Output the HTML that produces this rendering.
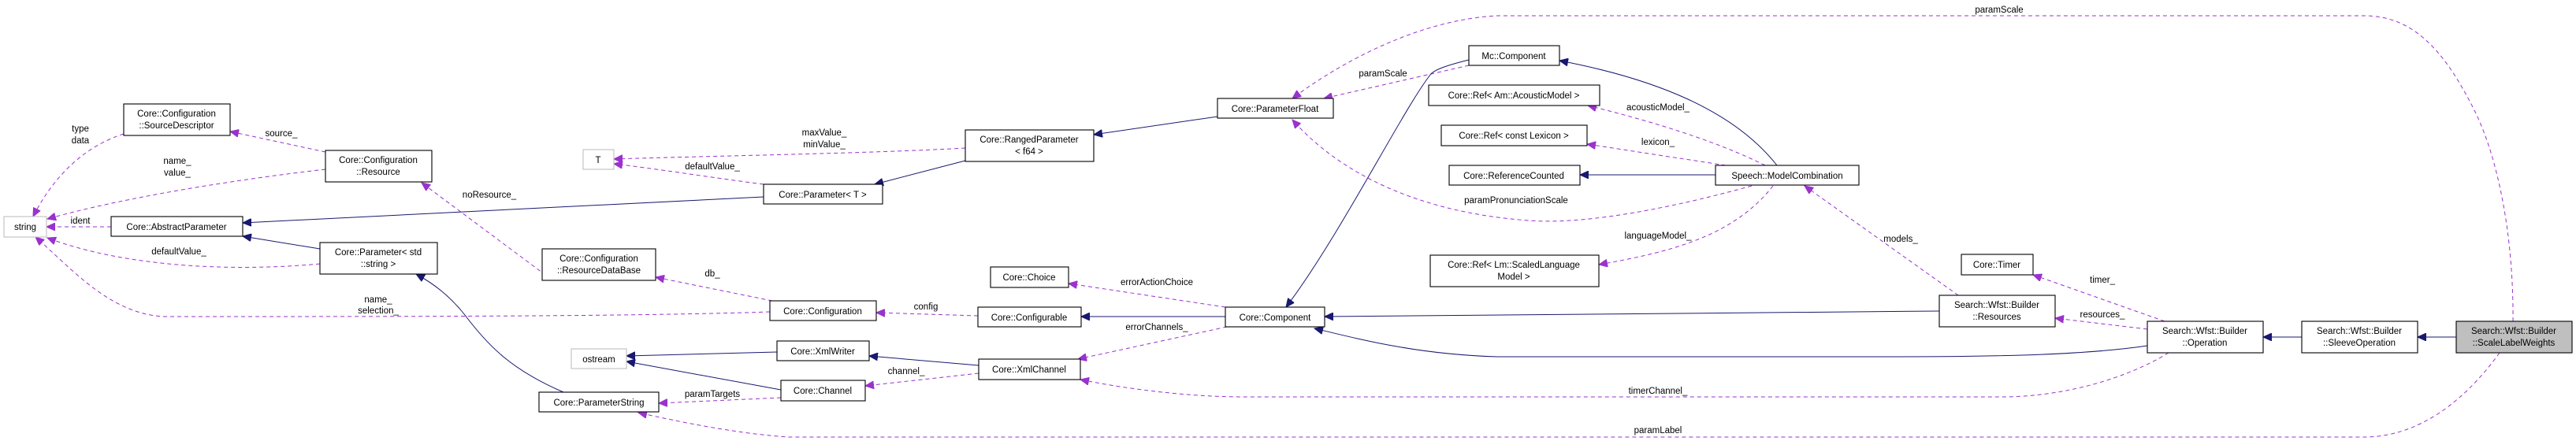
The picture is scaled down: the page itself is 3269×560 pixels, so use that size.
<!DOCTYPE html>
<html><head><meta charset="utf-8"><style>
html,body{margin:0;padding:0;background:#fff;width:3269px;height:560px;overflow:hidden}
text{font-family:"Liberation Sans",Arial,sans-serif;font-size:11.5px;fill:#000}
.b{fill:#fff;stroke:#000;stroke-width:1.1}
.g{fill:#fff;stroke:#bfbfbf;stroke-width:1.1}
.d{fill:none;stroke:#9a32cd;stroke-width:1;stroke-dasharray:5,4}
.s{fill:none;stroke:#191970;stroke-width:1}
</style></head><body>
<svg width="3269" height="560" xmlns="http://www.w3.org/2000/svg">
<defs>
<marker id="mp" markerWidth="12" markerHeight="10" refX="11" refY="5" orient="auto" markerUnits="userSpaceOnUse"><path d="M0,0 L11,5 L0,10 z" fill="#9a32cd" stroke="#9a32cd"/></marker>
<marker id="ms" markerWidth="12" markerHeight="10" refX="11" refY="5" orient="auto" markerUnits="userSpaceOnUse"><path d="M0,0 L11,5 L0,10 z" fill="#191970" stroke="#191970"/></marker>
</defs>

<!-- dashed edges -->
<path class="d" marker-end="url(#mp)" d="M157,170 C110,185 70,220 42,275"/>
<path class="d" marker-end="url(#mp)" d="M413,215 C300,228 160,250 60,278"/>
<path class="d" marker-end="url(#mp)" d="M141,288 L59,288"/>
<path class="d" marker-end="url(#mp)" d="M406,335 C300,345 160,340 60,302"/>
<path class="d" marker-end="url(#mp)" d="M977,396 C800,402 500,402 210,402 C140,400 90,340 45,301"/>
<path class="d" marker-end="url(#mp)" d="M413,193 L292,167"/>
<path class="d" marker-end="url(#mp)" d="M700,355 L535,232"/>
<path class="d" marker-end="url(#mp)" d="M1225,188 C1100,195 900,198 779,202"/>
<path class="d" marker-end="url(#mp)" d="M969,234 C900,225 830,214 779,208"/>
<path class="d" marker-end="url(#mp)" d="M980,382 L832,352"/>
<path class="d" marker-end="url(#mp)" d="M1241,401 L1112,397"/>
<path class="d" marker-end="url(#mp)" d="M1555,390 L1356,360"/>
<path class="d" marker-end="url(#mp)" d="M1557,415 L1368,456"/>
<path class="d" marker-end="url(#mp)" d="M1242,474 L1098,490"/>
<path class="d" marker-end="url(#mp)" d="M991,505 L836,512"/>
<path class="d" marker-end="url(#mp)" d="M3172,448 C3120,520 3060,555 3000,555 L1000,555 C930,550 860,535 810,524"/>
<path class="d" marker-end="url(#mp)" d="M2752,448 C2700,480 2620,504 2540,504 L1580,504 C1500,504 1420,492 1371,482"/>
<path class="d" marker-end="url(#mp)" d="M3189,408 C3190,300 3170,200 3140,140 C3100,60 3060,20 3000,20 L1900,20 C1800,25 1700,80 1640,125"/>
<path class="d" marker-end="url(#mp)" d="M1864,83 L1680,125"/>
<path class="d" marker-end="url(#mp)" d="M2223,236 C2100,270 2000,285 1940,280 C1800,270 1700,220 1640,152"/>
<path class="d" marker-end="url(#mp)" d="M2240,210 C2180,180 2100,155 2015,134"/>
<path class="d" marker-end="url(#mp)" d="M2190,210 L2014,183"/>
<path class="d" marker-end="url(#mp)" d="M2250,236 C2200,300 2120,320 2029,336"/>
<path class="d" marker-end="url(#mp)" d="M2485,375 L2290,236"/>
<path class="d" marker-end="url(#mp)" d="M2747,408 L2580,349"/>
<path class="d" marker-end="url(#mp)" d="M2725,418 L2608,404"/>

<!-- solid edges -->
<path class="s" marker-end="url(#ms)" d="M969,250 L308,283"/>
<path class="s" marker-end="url(#ms)" d="M406,316 L308,300"/>
<path class="s" marker-end="url(#ms)" d="M715,498 C650,470 620,440 590,400 C570,375 550,360 528,348"/>
<path class="s" marker-end="url(#ms)" d="M1545,148 L1388,171"/>
<path class="s" marker-end="url(#ms)" d="M1225,204 L1110,234"/>
<path class="s" marker-end="url(#ms)" d="M1555,402 L1372,402"/>
<path class="s" marker-end="url(#ms)" d="M1242,464 L1103,452"/>
<path class="s" marker-end="url(#ms)" d="M986,447 L795,452"/>
<path class="s" marker-end="url(#ms)" d="M991,495 L795,459"/>
<path class="s" marker-end="url(#ms)" d="M1864,76 C1840,82 1820,88 1815,95 C1780,140 1700,300 1632,390"/>
<path class="s" marker-end="url(#ms)" d="M2255,210 C2200,140 2100,100 1979,77"/>
<path class="s" marker-end="url(#ms)" d="M2177,222 L2005,222"/>
<path class="s" marker-end="url(#ms)" d="M2461,395 L1681,402"/>
<path class="s" marker-end="url(#ms)" d="M2725,439 C2650,450 2550,453 2400,453 L1900,453 C1800,450 1730,432 1668,417"/>
<path class="s" marker-end="url(#ms)" d="M2921,428 L2872,428"/>
<path class="s" marker-end="url(#ms)" d="M3117,428 L3068,428"/>

<!-- nodes -->
<rect class="g" x="5" y="275" width="54" height="26"/><text x="32" y="292" text-anchor="middle">string</text>
<rect class="b" x="157" y="132" width="135" height="40"/><text x="224" y="148" text-anchor="middle">Core::Configuration</text><text x="224" y="163" text-anchor="middle">::SourceDescriptor</text>
<rect class="b" x="413" y="191" width="135" height="40"/><text x="480" y="207" text-anchor="middle">Core::Configuration</text><text x="480" y="222" text-anchor="middle">::Resource</text>
<rect class="b" x="141" y="275" width="167" height="25"/><text x="224" y="292" text-anchor="middle">Core::AbstractParameter</text>
<rect class="b" x="406" y="308" width="149" height="40"/><text x="480" y="324" text-anchor="middle">Core::Parameter&lt; std</text><text x="480" y="339" text-anchor="middle">::string &gt;</text>
<rect class="g" x="740" y="190" width="39" height="25"/><text x="759" y="207" text-anchor="middle">T</text>
<rect class="b" x="969" y="234" width="151" height="25"/><text x="1044" y="251" text-anchor="middle">Core::Parameter&lt; T &gt;</text>
<rect class="b" x="688" y="316" width="144" height="40"/><text x="760" y="332" text-anchor="middle">Core::Configuration</text><text x="760" y="347" text-anchor="middle">::ResourceDataBase</text>
<rect class="b" x="977" y="382" width="135" height="25"/><text x="1044" y="399" text-anchor="middle">Core::Configuration</text>
<rect class="g" x="725" y="443" width="70" height="25"/><text x="760" y="460" text-anchor="middle">ostream</text>
<rect class="b" x="986" y="433" width="117" height="25"/><text x="1044" y="450" text-anchor="middle">Core::XmlWriter</text>
<rect class="b" x="991" y="483" width="107" height="26"/><text x="1044" y="500" text-anchor="middle">Core::Channel</text>
<rect class="b" x="684" y="498" width="152" height="25"/><text x="760" y="515" text-anchor="middle">Core::ParameterString</text>
<rect class="b" x="1225" y="165" width="163" height="40"/><text x="1306" y="181" text-anchor="middle">Core::RangedParameter</text><text x="1306" y="196" text-anchor="middle">&lt; f64 &gt;</text>
<rect class="b" x="1545" y="125" width="147" height="25"/><text x="1618" y="142" text-anchor="middle">Core::ParameterFloat</text>
<rect class="b" x="1257" y="339" width="99" height="26"/><text x="1306" y="356" text-anchor="middle">Core::Choice</text>
<rect class="b" x="1241" y="390" width="131" height="25"/><text x="1306" y="407" text-anchor="middle">Core::Configurable</text>
<rect class="b" x="1555" y="390" width="126" height="25"/><text x="1618" y="407" text-anchor="middle">Core::Component</text>
<rect class="b" x="1242" y="456" width="129" height="26"/><text x="1306" y="473" text-anchor="middle">Core::XmlChannel</text>
<rect class="b" x="1864" y="58" width="115" height="25"/><text x="1921" y="75" text-anchor="middle">Mc::Component</text>
<rect class="b" x="1813" y="108" width="217" height="26"/><text x="1921" y="125" text-anchor="middle">Core::Ref&lt; Am::AcousticModel &gt;</text>
<rect class="b" x="1829" y="159" width="185" height="26"/><text x="1921" y="176" text-anchor="middle">Core::Ref&lt; const Lexicon &gt;</text>
<rect class="b" x="1839" y="210" width="166" height="25"/><text x="1921" y="227" text-anchor="middle">Core::ReferenceCounted</text>
<rect class="b" x="1815" y="324" width="214" height="40"/><text x="1921" y="340" text-anchor="middle">Core::Ref&lt; Lm::ScaledLanguage</text><text x="1921" y="355" text-anchor="middle">Model &gt;</text>
<rect class="b" x="2177" y="210" width="182" height="25"/><text x="2268" y="227" text-anchor="middle">Speech::ModelCombination</text>
<rect class="b" x="2489" y="323" width="91" height="26"/><text x="2534" y="340" text-anchor="middle">Core::Timer</text>
<rect class="b" x="2461" y="375" width="147" height="40"/><text x="2534" y="391" text-anchor="middle">Search::Wfst::Builder</text><text x="2534" y="406" text-anchor="middle">::Resources</text>
<rect class="b" x="2725" y="408" width="147" height="40"/><text x="2798" y="424" text-anchor="middle">Search::Wfst::Builder</text><text x="2798" y="439" text-anchor="middle">::Operation</text>
<rect class="b" x="2921" y="408" width="147" height="40"/><text x="2994" y="424" text-anchor="middle">Search::Wfst::Builder</text><text x="2994" y="439" text-anchor="middle">::SleeveOperation</text>
<rect x="3117" y="408" width="147" height="40" fill="#bfbfbf" stroke="#000" stroke-width="1.1"/><text x="3190" y="424" text-anchor="middle">Search::Wfst::Builder</text><text x="3190" y="439" text-anchor="middle">::ScaleLabelWeights</text>

<!-- edge labels -->
<text x="102" y="167" text-anchor="middle">type</text><text x="102" y="182" text-anchor="middle">data</text>
<text x="357" y="173" text-anchor="middle">source_</text>
<text x="225" y="208" text-anchor="middle">name_</text><text x="225" y="223" text-anchor="middle">value_</text>
<text x="102" y="284" text-anchor="middle">ident</text>
<text x="227" y="323" text-anchor="middle">defaultValue_</text>
<text x="480" y="384" text-anchor="middle">name_</text><text x="480" y="398" text-anchor="middle">selection_</text>
<text x="1046" y="172" text-anchor="middle">maxValue_</text><text x="1046" y="187" text-anchor="middle">minValue_</text>
<text x="904" y="215" text-anchor="middle">defaultValue_</text>
<text x="621" y="251" text-anchor="middle">noResource_</text>
<text x="904" y="351" text-anchor="middle">db_</text>
<text x="1175" y="393" text-anchor="middle">config</text>
<text x="1468" y="362" text-anchor="middle">errorActionChoice</text>
<text x="1468" y="419" text-anchor="middle">errorChannels_</text>
<text x="1150" y="475" text-anchor="middle">channel_</text>
<text x="904" y="504" text-anchor="middle">paramTargets</text>
<text x="1755" y="97" text-anchor="middle">paramScale</text>
<text x="2537" y="16" text-anchor="middle">paramScale</text>
<text x="2104" y="140" text-anchor="middle">acousticModel_</text>
<text x="2104" y="184" text-anchor="middle">lexicon_</text>
<text x="1924" y="258" text-anchor="middle">paramPronunciationScale</text>
<text x="2104" y="303" text-anchor="middle">languageModel_</text>
<text x="2412" y="307" text-anchor="middle">models_</text>
<text x="2668" y="359" text-anchor="middle">timer_</text>
<text x="2668" y="403" text-anchor="middle">resources_</text>
<text x="2104" y="500" text-anchor="middle">timerChannel_</text>
<text x="2104" y="550" text-anchor="middle">paramLabel</text>
</svg>
</body></html>
